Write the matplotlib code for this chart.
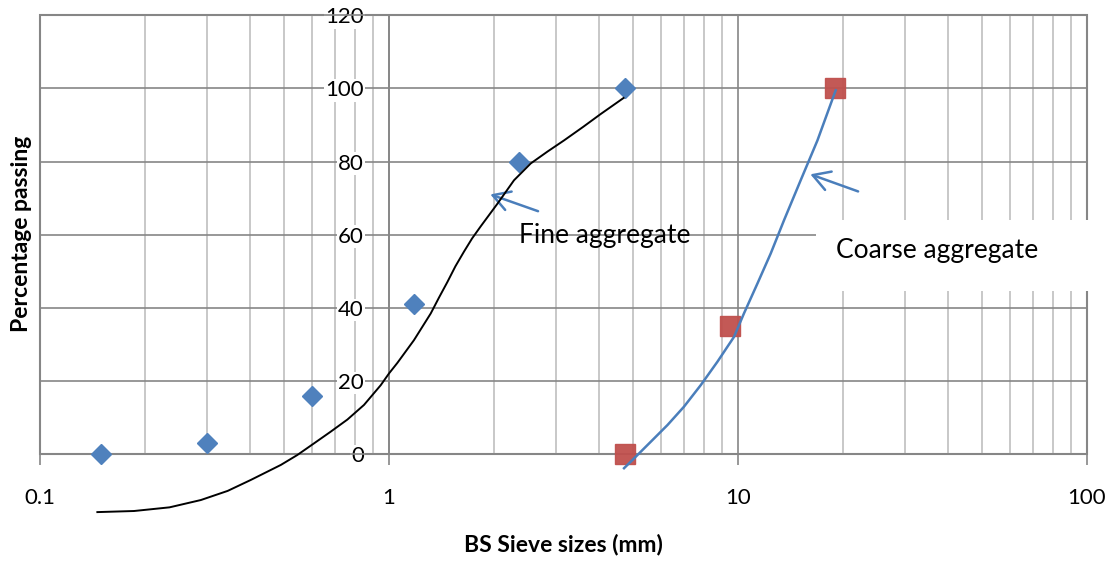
import numpy as np
import matplotlib.pyplot as plt
from matplotlib.patches import Rectangle
from matplotlib.ticker import FixedLocator, NullFormatter

plt.rcParams['font.family'] = ['Lato', 'DejaVu Sans']

# sieve test results
fine_size = [0.15, 0.3, 0.6, 1.18, 2.36, 4.75]
fine_pass = [0, 3, 16, 41, 80, 100]
coarse_size = [4.75, 9.5, 19]
coarse_pass = [0, 35, 100]

# hand drawn grading curves
fine_curve_x = [0.146, 0.186, 0.235, 0.289, 0.345, 0.402, 0.49, 0.546, 0.61, 0.681,
                0.76, 0.848, 0.947, 1.0, 1.057, 1.179, 1.317, 1.39, 1.47, 1.55, 1.64,
                1.73, 1.831, 2.045, 2.281, 2.547, 2.85, 3.173, 3.6, 4.04, 4.7]
fine_curve_y = [-15.8, -15.5, -14.5, -12.5, -10.0, -7.0, -2.9, -0.2, 3.0, 6.2,
                9.5, 13.5, 18.9, 22.1, 25.0, 31.2, 38.5, 42.8, 47.1, 51.4, 55.4,
                59.0, 62.3, 68.5, 74.9, 79.5, 82.8, 85.8, 89.5, 93.0, 97.4]
coarse_curve_x = [4.715, 5.04, 5.62, 6.28, 7.0, 7.82, 8.73, 9.74, 10.4, 11.37,
                  12.41, 13.55, 15.12, 16.89, 19.05]
coarse_curve_y = [-3.8, -1.1, 3.4, 8.0, 13.0, 18.9, 25.3, 32.1, 38.5, 46.7,
                  54.9, 64.0, 74.9, 85.8, 99.5]

y_ticks = [0, 20, 40, 60, 80, 100, 120]
x_ticks = [0.1, 1, 10, 100]
x_labels = ['0.1', '1', '10', '100']

blue = '#4F81BD'
red = '#C0504D'
line_blue = '#4A7EBB'
major_grey = '#868686'
minor_grey = '#BFBFBF'

fig = plt.figure(figsize=(11.12, 5.67), dpi=100)
ax = fig.add_axes([40 / 1112, 1 - 454.3 / 567, 1047 / 1112, 439 / 567])

ax.set_xscale('log')
ax.set_xlim(0.1, 100)
ax.set_ylim(0, 120)

ax.plot(fine_size, fine_pass, 'D', color=blue, markersize=10, zorder=3, clip_on=False)
ax.plot(coarse_size, coarse_pass, 's', color=red, markersize=14, alpha=0.95, zorder=3, clip_on=False)
ax.plot(fine_curve_x, fine_curve_y, color='black', lw=1.4, zorder=4, clip_on=False,
        solid_joinstyle='round')
ax.plot(coarse_curve_x, coarse_curve_y, color=line_blue, lw=1.8, zorder=4, clip_on=False,
        solid_joinstyle='round')

# grid
ax.xaxis.set_major_locator(FixedLocator(x_ticks))
ax.set_xticklabels(x_labels)
minor = [m * d for d in [0.1, 1, 10] for m in range(2, 10)]
ax.xaxis.set_minor_locator(FixedLocator(minor))
ax.xaxis.set_minor_formatter(NullFormatter())
ax.set_yticks(y_ticks)
ax.grid(which='major', color=major_grey, lw=1.2)
ax.grid(which='minor', axis='x', color=minor_grey, lw=1.2)
ax.set_axisbelow(True)

for s in ['top', 'right', 'bottom']:
    ax.spines[s].set_color(major_grey)
    ax.spines[s].set_linewidth(1.2)
# vertical axis crosses at 1
ax.spines['left'].set_position(('data', 1))
ax.spines['left'].set_color(major_grey)
ax.spines['left'].set_linewidth(1.2)
ax.add_patch(Rectangle((0, 0), 1, 1, transform=ax.transAxes, fill=False,
                       ec=major_grey, lw=1.5, zorder=0.5, clip_on=False))

ax.tick_params(axis='x', which='major', length=8, width=1.2, color=major_grey,
               direction='out', pad=16, labelsize=16)
ax.tick_params(axis='x', which='minor', length=0)
ax.tick_params(axis='y', length=0, pad=18, labelsize=16)
for lbl in ax.get_yticklabels():
    lbl.set_bbox(dict(facecolor='white', edgecolor='none', pad=1))

ax.set_xlabel('BS Sieve sizes (mm)', fontsize=16.5, fontweight='bold', labelpad=19)
fig.text(22 / 1112, 1 - 234 / 567, 'Percentage passing', rotation=90, fontsize=16.5,
         fontweight='bold', ha='center', va='center')

# annotations
arrow_style = '->, head_length=0.6, head_width=0.35'
ax.annotate('', xy=(1.918, 71.3), xytext=(2.72, 66.2),
            arrowprops=dict(arrowstyle=arrow_style, color=line_blue, lw=1.8, mutation_scale=20))
ax.annotate('', xy=(15.84, 76.8), xytext=(22.47, 71.6),
            arrowprops=dict(arrowstyle=arrow_style, color=line_blue, lw=1.8, mutation_scale=20))
ax.text(2.353, 57.7, 'Fine aggregate', fontsize=19, ha='left', va='baseline', zorder=5)

fig.patches.append(Rectangle((816 / 1112, 1 - 291 / 567), (1095 - 816) / 1112, 71 / 567,
                             transform=fig.transFigure, facecolor='white', edgecolor='none',
                             zorder=1, figure=fig))
fig.text(836 / 1112, 1 - 258 / 567, 'Coarse aggregate', fontsize=19, ha='left',
         va='baseline', zorder=2)

fig.savefig('out.png', dpi=100)
